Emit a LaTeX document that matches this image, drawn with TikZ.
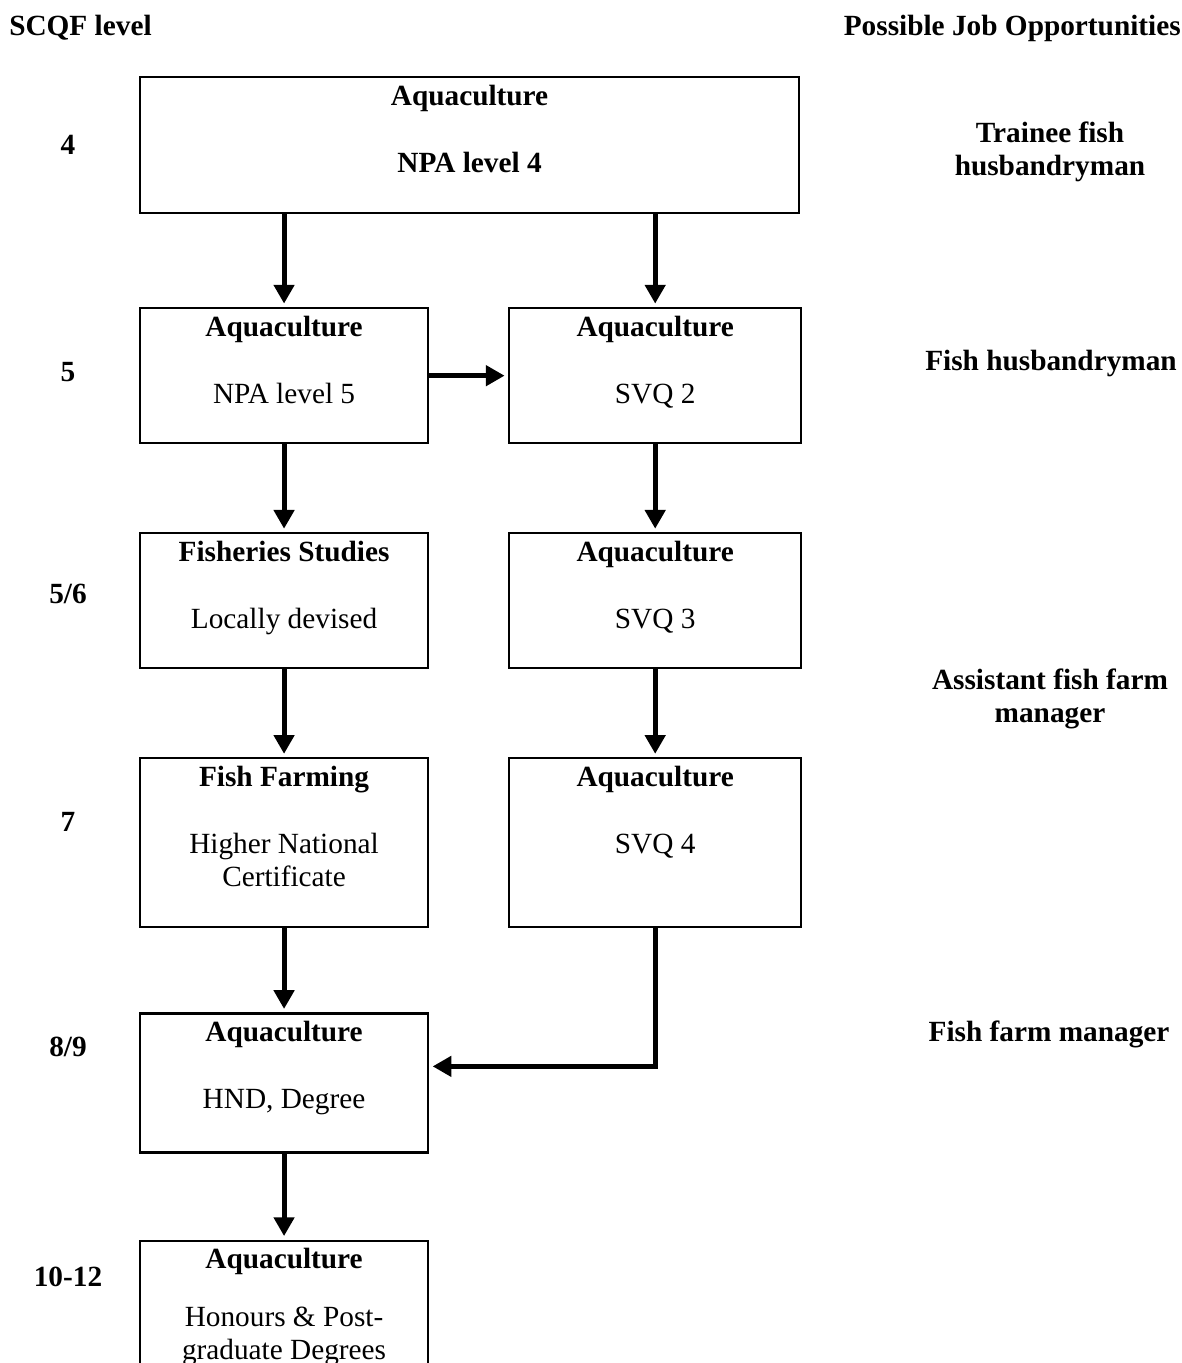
\documentclass[tikz,border=0pt]{standalone}
\usepackage{fontspec}
\setmainfont{Liberation Serif}
\usetikzlibrary{arrows.meta, positioning}
\newcommand{\qual}[4][14.5pt]{\parbox[c][#2][t]{4.2cm}{\centering\rule{0pt}{0.42cm}\textbf{#3}\\[#1]#4}}
\tikzset{
  qbox/.style={draw, line width=0.9pt, inner sep=0pt, minimum width=4.32cm,
    font=\fontsize{12.5}{14.2}\selectfont},
  rqbox/.style={qbox, minimum width=4.38cm},
  lvl/.style={font=\fontsize{12.5}{14.2}\selectfont\bfseries},
  job/.style={align=center, font=\fontsize{12.5}{14.2}\selectfont\bfseries},
  path/.style={-{Triangle[length=8pt, width=8.5pt]}, line width=2.1pt, shorten >=1.5pt},
}

\begin{document}
\begin{tikzpicture}[x=0.015cm, y=-0.015cm, node distance=1.32cm and 1.185cm]
    \path[use as bounding box, clip] (0,0) rectangle (1182,1363);
    \node[lvl, anchor=west] (hscqf) at (1,28) {SCQF level};
    \node[lvl, anchor=east] (hjobs) at (1189,28) {Possible Job Opportunities};
    % qualifications
    \node[qbox, minimum width=9.885cm, anchor=north west] (npa4) at (139,76)
      {\qual{2.04cm}{Aquaculture}{\textbf{NPA level 4}}};
    \node[qbox, below=1.395cm of npa4.south west, anchor=north west] (npa5)
      {\qual{2.025cm}{Aquaculture}{NPA level 5}};
    \node[rqbox, right=of npa5] (svq2) {\qual{2.025cm}{Aquaculture}{SVQ 2}};
    \node[qbox, below=of npa5] (fish) {\qual{2.025cm}{Fisheries Studies}{Locally devised}};
    \node[rqbox, below=of svq2] (svq3) {\qual{2.025cm}{Aquaculture}{SVQ 3}};
    \node[qbox, below=of fish] (hnc) {\qual{2.535cm}{Fish Farming}{Higher National\\Certificate}};
    \node[rqbox, below=of svq3] (svq4) {\qual{2.535cm}{Aquaculture}{SVQ 4}};
    \node[qbox, below=1.26cm of hnc] (hnd) {\qual{2.085cm}{Aquaculture}{HND, Degree}};
    \node[qbox, below=1.29cm of hnd] (hons) {\qual[10.5pt]{2.6cm}{Aquaculture}{Honours \& Post-\\graduate Degrees}};
    % levels
    \node[lvl] (l4) at (68,145) {4};
    \node[lvl] (l5) at (68,372) {5};
    \node[lvl] (l56) at (68,594) {5/6};
    \node[lvl] (l7) at (68,822) {7};
    \node[lvl] (l89) at (68,1047) {8/9};
    \node[lvl] (l1012) at (68,1277) {10-12};
    % jobs
    \node[job] (j1) at (1050,151.5) {Trainee fish\\husbandryman};
    \node[job] (j2) at (1051,363) {Fish husbandryman};
    \node[job] (j3) at (1050,699) {Assistant fish farm\\manager};
    \node[job] (j4) at (1049,1034) {Fish farm manager};
    % routes
    \draw[path] (npa4.south -| npa5) -- (npa5.north);
    \draw[path] (npa4.south -| svq2) -- (svq2.north);
    \draw[path] (npa5) -- (svq2);
    \draw[path] (npa5) -- (fish);
    \draw[path] (svq2) -- (svq3);
    \draw[path] (fish) -- (hnc);
    \draw[path] (svq3) -- (svq4);
    \draw[path] (hnc) -- (hnd);
    \draw[path] (svq4.south) |- ([yshift=0.25cm]hnd.east);
    \draw[path] (hnd) -- (hons);
  \end{tikzpicture}
\end{document}
